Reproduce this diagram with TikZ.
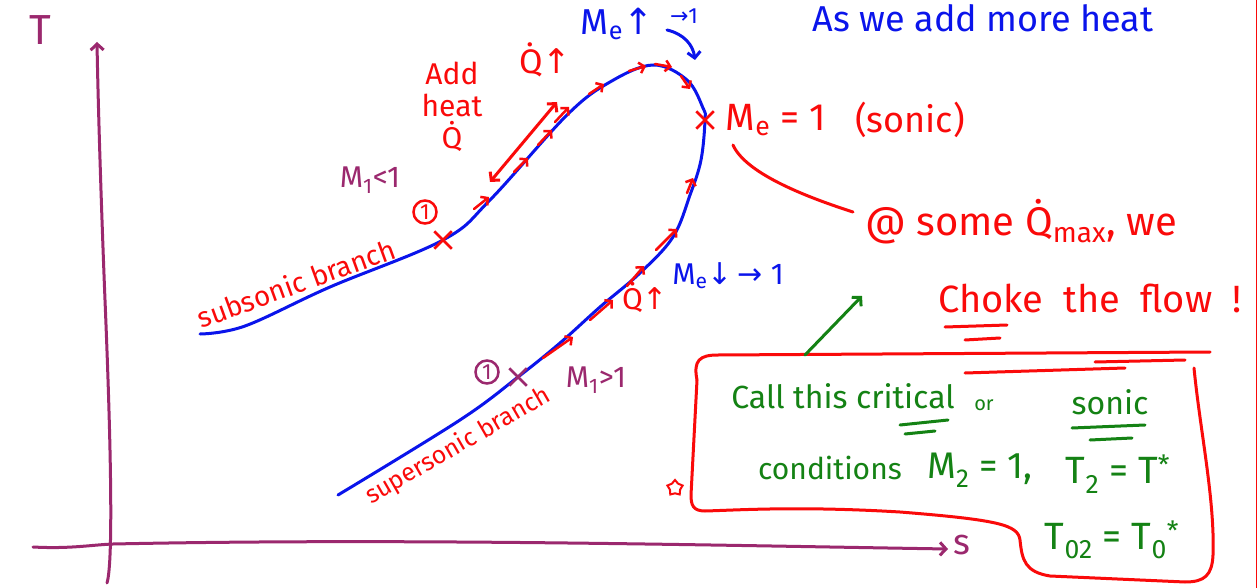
\documentclass[tikz,border=0pt]{standalone}
\usepackage{fontspec}
\setmainfont{Fira Sans}
\newfontfamily\symf{DejaVu Sans}
\usetikzlibrary{arrows.meta,shapes.geometric,shapes.misc}
\definecolor{penred}{RGB}{250,10,10}
\definecolor{penblue}{RGB}{10,20,235}
\definecolor{pengreen}{RGB}{20,130,20}
\definecolor{penpurple}{RGB}{155,40,110}
\newcommand\fsz[1]{\fontsize{#1}{#1}\selectfont}
\newcommand\Qd{\.{Q}}
\newcommand\ua{{\symf ↑}}
\newcommand\da{{\symf ↓}}
\newcommand\ra{{\symf →}}
\begin{document}
\begin{tikzpicture}[x=1pt,y=-1pt,
  pen/.style={line width=3pt,line cap=round,line join=round},
  penR/.style={pen,draw=penred},
  penB/.style={pen,draw=penblue},
  penG/.style={pen,draw=pengreen},
  penP/.style={pen,draw=penpurple},
  barb/.style={-{Straight Barb[length=6pt,width=13pt]}},
  chev/.style={penR,line width=2.5pt,-{Straight Barb[length=5pt,width=11pt]}},
  tR/.style={text=penred,inner sep=0pt},
  tB/.style={text=penblue,inner sep=0pt},
  tG/.style={text=pengreen,inner sep=0pt},
  tP/.style={text=penpurple,inner sep=0pt},
  xmark/.style={cross out,draw,line width=2.5pt,minimum size=15pt,inner sep=0pt},
  circnum/.style={circle,draw,line width=2.5pt,inner sep=2pt,font=\fsz{22}}
]
\fill[white] (0,0) rectangle (1258,588);
\useasboundingbox (0,0) rectangle (1258,588);
\draw[draw=penred,line width=1.2pt] (1256.5,0) -- (1256.5,588);

% axes
\coordinate (ytop) at (97,42);
\coordinate (xend) at (948,549);
\draw[penP,barb] (107,583) .. controls (114,560) and (110,420) .. (105,300) .. controls (101,200) and (98,100) .. (ytop);
\draw[penP,barb] (33,547) .. controls (70,549) and (90,545) .. (113,544) .. controls (400,538) and (700,545) .. (xend);
\node[tP,font=\fsz{42}] (Tlab) at (40,30) {T};
\node[tP,font=\fsz{36}] (slab) at (962,545) {s};

% key points
\coordinate (sub1) at (443,240);
\coordinate (sonic) at (705,120);
\coordinate (sup1) at (518,377);

% Rayleigh line
\draw[penB] plot[smooth,tension=0.6] coordinates {(200,334) (245,326) (330,287) (sub1) (490,200) (567,115) (610,82) (653,65) (687,80) (703,108) (sonic) (701,160) (690,195) (673,237) (640,273) (600,307) (560,343) (sup1) (460,420) (338,495)};

% subsonic direction marks
\draw[chev] (474,209) -- (489,197);
\draw[chev] (514,172) -- (528,158);
\draw[chev] (538,145) -- (552,130);
\draw[chev] (555,122) -- (569,107);
\draw[chev] (589,94) -- (604,84);
\draw[chev] (629,71) -- (646,66);
\draw[chev] (655,64) -- (672,67);
\draw[chev] (681,76) -- (690,89);
% supersonic direction marks
\draw[chev] (543,358) -- (573,337);
\draw[chev] (590,320) -- (613,300);
\draw[chev] (627,286) -- (644,266);
\draw[chev] (656,250) -- (677,229);
\draw[chev] (687,193) -- (693,178);

% add heat arrow
\coordinate (ha) at (490,182);
\coordinate (hb) at (557,102);
\draw[penR,{Straight Barb[length=6pt,width=13pt]}-{Straight Barb[length=6pt,width=13pt]}] (ha) -- (hb);

% marks on curve
\node[xmark,draw=penred] (x1) at (sub1) {};
\node[xmark,draw=penred] (xs) at (sonic) {};
\node[xmark,draw=penpurple] (x2) at (sup1) {};
\node[circnum,draw=penred,text=penred] (c1) at (425,212) {1};
\node[circnum,draw=penpurple,text=penpurple] (c2) at (487,372) {1};

% labels
\node[tP,font=\fsz{30}] (m1a) at (370,180) {M\textsubscript{1}<1};
\node[tP,font=\fsz{30}] (m1b) at (596,380) {M\textsubscript{1}>1};
\node[tR,font=\fsz{28},rotate=20] (subb) at (296,283) {subsonic branch};
\node[tR,font=\fsz{25},rotate=30] (supb) at (458,446) {supersonic branch};
\node[tR,font=\fsz{30},align=center] (add) at (452,107) {Add\\[2pt]heat\\[2pt]\Qd};
\node[tR,font=\fsz{34}] (qup1) at (545,60) {\Qd\ua};
\node[tR,font=\fsz{30}] (qup2) at (645,297) {\Qd\ua};
\node[tB,font=\fsz{36}] (meup) at (617,24) {M\textsubscript{e}\ua};
\node[tB,font=\fsz{22}] (to1) at (684,16) {\ra 1};
\draw[penB,barb] (667,30) .. controls (684,34) and (693,45) .. (695,60);
\node[tB,font=\fsz{30}] (medn) at (728,276) {M\textsubscript{e}\da\,\ra\ 1};
\node[tB,font=\fsz{36}] (asw) at (983,18) {As we add more heat};
\node[tR,font=\fsz{38}] (me1) at (776,120) {M\textsubscript{e} = 1};
\node[tR,font=\fsz{36}] (son) at (910,120) {(sonic)};
\node[tR,font=\fsz{40}] (qmax) at (1021,222) {@ some \Qd\textsubscript{max}, we};
\node[tR,font=\fsz{38}] (choke) at (1090,298) {Choke \ the \ flow \ !};
\draw[penR] (945,327) -- (1007,325);
\draw[penR] (965,340) -- (1000,338);
\draw[penR] (sonic) ++(28,25) coordinate (cs) .. controls (745,172) and (800,195) .. (853,212) coordinate (ce);

% box
\draw[penR] (697,380) .. controls (693,360) and (700,355) .. (718,355) -- (1210,352);
\draw[penR] (965,373) -- (1125,368);
\draw[penR] (1095,362) -- (1185,360);
\draw[penR] (1194,368) .. controls (1200,430) and (1215,500) .. (1213,555) .. controls (1212,575) and (1205,582) .. (1185,582)
  -- (1050,576) .. controls (1025,572) and (1022,560) .. (1020,540) .. controls (1018,525) and (1000,520) .. (900,512)
  .. controls (800,506) and (740,510) .. (705,511) .. controls (693,511) and (691,505) .. (691,495) -- (697,380);
\node[star,star points=5,draw=penred,line width=2pt,minimum size=16pt,inner sep=0pt] (st) at (675,488) {};
\coordinate (ga) at (805,355);
\coordinate (gb) at (862,296);
\draw[penG,barb] (ga) -- (gb);

% green text
\node[tG,font=\fsz{32}] (g1) at (843,396) {Call this critical};
\node[tG,font=\fsz{20}] (g2) at (984,405) {or};
\node[tG,font=\fsz{32}] (g3) at (1110,402) {sonic};
\draw[penG] (900,425) -- (948,420);
\draw[penG] (905,434) -- (935,431);
\draw[penG] (1072,428) -- (1145,425);
\draw[penG] (1090,440) -- (1132,438);
\node[tG,font=\fsz{30}] (g4) at (830,468) {conditions};
\node[tG,font=\fsz{37}] (g5) at (980,470) {M\textsubscript{2} = 1,};
\node[tG,font=\fsz{38}] (g6) at (1118,474) {T\textsubscript{2} = T\textsuperscript{*}};
\node[tG,font=\fsz{38}] (g7) at (1112,540) {T\textsubscript{02} = T\textsubscript{0}\textsuperscript{*}};
\end{tikzpicture}
\end{document}
